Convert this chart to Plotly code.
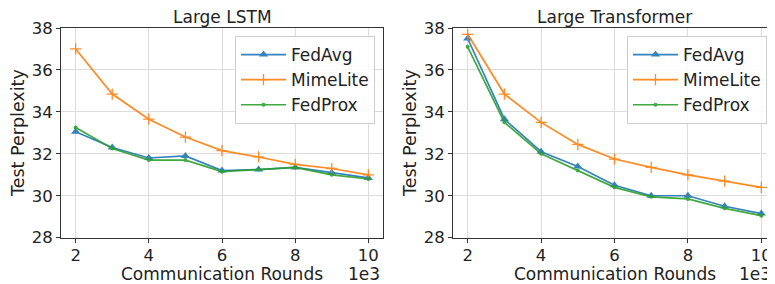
import plotly.graph_objects as go

rounds = [2, 3, 4, 5, 6, 7, 8, 9, 10]

lstm_fedavg = [33.05, 32.3, 31.8, 31.9, 31.2, 31.25, 31.35, 31.1, 30.85]
lstm_mimelite = [37.0, 34.85, 33.65, 32.8, 32.15, 31.85, 31.5, 31.3, 31.0]
lstm_fedprox = [33.25, 32.25, 31.7, 31.7, 31.15, 31.25, 31.35, 31.0, 30.8]

tr_fedavg = [37.5, 33.65, 32.1, 31.4, 30.5, 30.0, 30.0, 29.5, 29.15]
tr_mimelite = [37.7, 34.85, 33.5, 32.45, 31.75, 31.35, 31.0, 30.7, 30.4]
tr_fedprox = [37.1, 33.5, 32.0, 31.2, 30.4, 29.95, 29.85, 29.4, 29.05]

titles = ["Large LSTM", "Large Transformer"]
x_ticks = [2, 4, 6, 8, 10]
y_ticks = [28, 30, 32, 34, 36, 38]

BLUE, ORANGE, GREEN = "#1f77b4", "#ff7f0e", "#2ca02c"
FONT = "DejaVu Sans"
W, H = 775, 284
OX, OY = 8, 8  # page body offset


def px(x):
    return (x - OX) / W


def py(y):
    return 1 - (y - OY) / H


fig = go.Figure()

series = [
    ("FedAvg", BLUE, dict(symbol="triangle-up", size=8)),
    ("MimeLite", ORANGE, dict(symbol="cross-thin", size=8, line=dict(width=1.3, color=ORANGE))),
    ("FedProx", GREEN, dict(symbol="circle", size=4)),
]
data_sets = [
    [lstm_fedavg, lstm_mimelite, lstm_fedprox],
    [tr_fedavg, tr_mimelite, tr_fedprox],
]

for p, vals in enumerate(data_sets):
    xa = "x" if p == 0 else "x2"
    ya = "y" if p == 0 else "y2"
    lg = "legend" if p == 0 else "legend2"
    for (name, col, mk), v in zip(series, vals):
        m = dict(color=col, **mk)
        fig.add_trace(go.Scatter(
            x=rounds, y=v, name=name, mode="lines+markers",
            line=dict(color=col, width=1.7), marker=m,
            xaxis=xa, yaxis=ya, legend=lg, opacity=0.9,
        ))

ydom = [py(237.7), py(28)]
ax_common = dict(
    showgrid=True, gridcolor="#dcdcdc", gridwidth=1,
    showline=True, linecolor="#333333", linewidth=1, mirror=True,
    ticks="outside", ticklen=4, tickcolor="#333333",
    tickfont=dict(family=FONT, size=16.5, color="#222222"),
    zeroline=False, automargin=False,
)

leg_common = dict(
    xanchor="right", y=py(36), yanchor="top",
    bgcolor="rgba(255,255,255,0.85)", bordercolor="#cccccc", borderwidth=1,
    font=dict(family=FONT, size=17, color="#222222"),
    itemwidth=45, tracegroupgap=0,
)

fig.update_layout(
    width=W, height=H,
    margin=dict(l=0, r=0, t=0, b=0, pad=0, autoexpand=False),
    paper_bgcolor="white", plot_bgcolor="white",
    font=dict(family=FONT, color="#222222"),
    xaxis=dict(domain=[px(61), px(383)], range=[1.6, 10.4], tickvals=x_ticks,
               anchor="y", ticklabelstandoff=-2, **ax_common),
    yaxis=dict(domain=ydom, range=[28, 38], tickvals=y_ticks, anchor="x", **ax_common),
    xaxis2=dict(domain=[px(453), px(776)], range=[1.6, 10.4], tickvals=x_ticks,
                anchor="y2", ticklabelstandoff=-2, **ax_common),
    yaxis2=dict(domain=ydom, range=[28, 38], tickvals=y_ticks, anchor="x2", **ax_common),
    legend=dict(x=px(375), **leg_common),
    legend2=dict(x=px(767), **leg_common),
)

ann = []
centers = [(61 + 383) / 2, (453 + 776) / 2]
right_edges = [382, 773]
ylab_x = [18, 410]
for i in range(2):
    ann.append(dict(text=titles[i], x=px(centers[i]), y=py(17), xref="paper", yref="paper",
                    showarrow=False, font=dict(family=FONT, size=17, color="#222222"),
                    xanchor="center", yanchor="middle"))
    ann.append(dict(text="Communication Rounds", x=px(centers[i]), y=py(274),
                    xref="paper", yref="paper", showarrow=False,
                    font=dict(family=FONT, size=17, color="#222222"),
                    xanchor="center", yanchor="middle"))
    ann.append(dict(text="1e3", x=px(right_edges[i]), y=py(274),
                    xref="paper", yref="paper", showarrow=False,
                    font=dict(family=FONT, size=17, color="#222222"),
                    xanchor="right", yanchor="middle"))
    ann.append(dict(text="Test Perplexity", x=px(ylab_x[i]), y=py(133),
                    xref="paper", yref="paper", showarrow=False, textangle=-90,
                    font=dict(family=FONT, size=17.5, color="#222222"),
                    xanchor="center", yanchor="middle"))
fig.update_layout(annotations=ann)

fig.write_html("out.html")
